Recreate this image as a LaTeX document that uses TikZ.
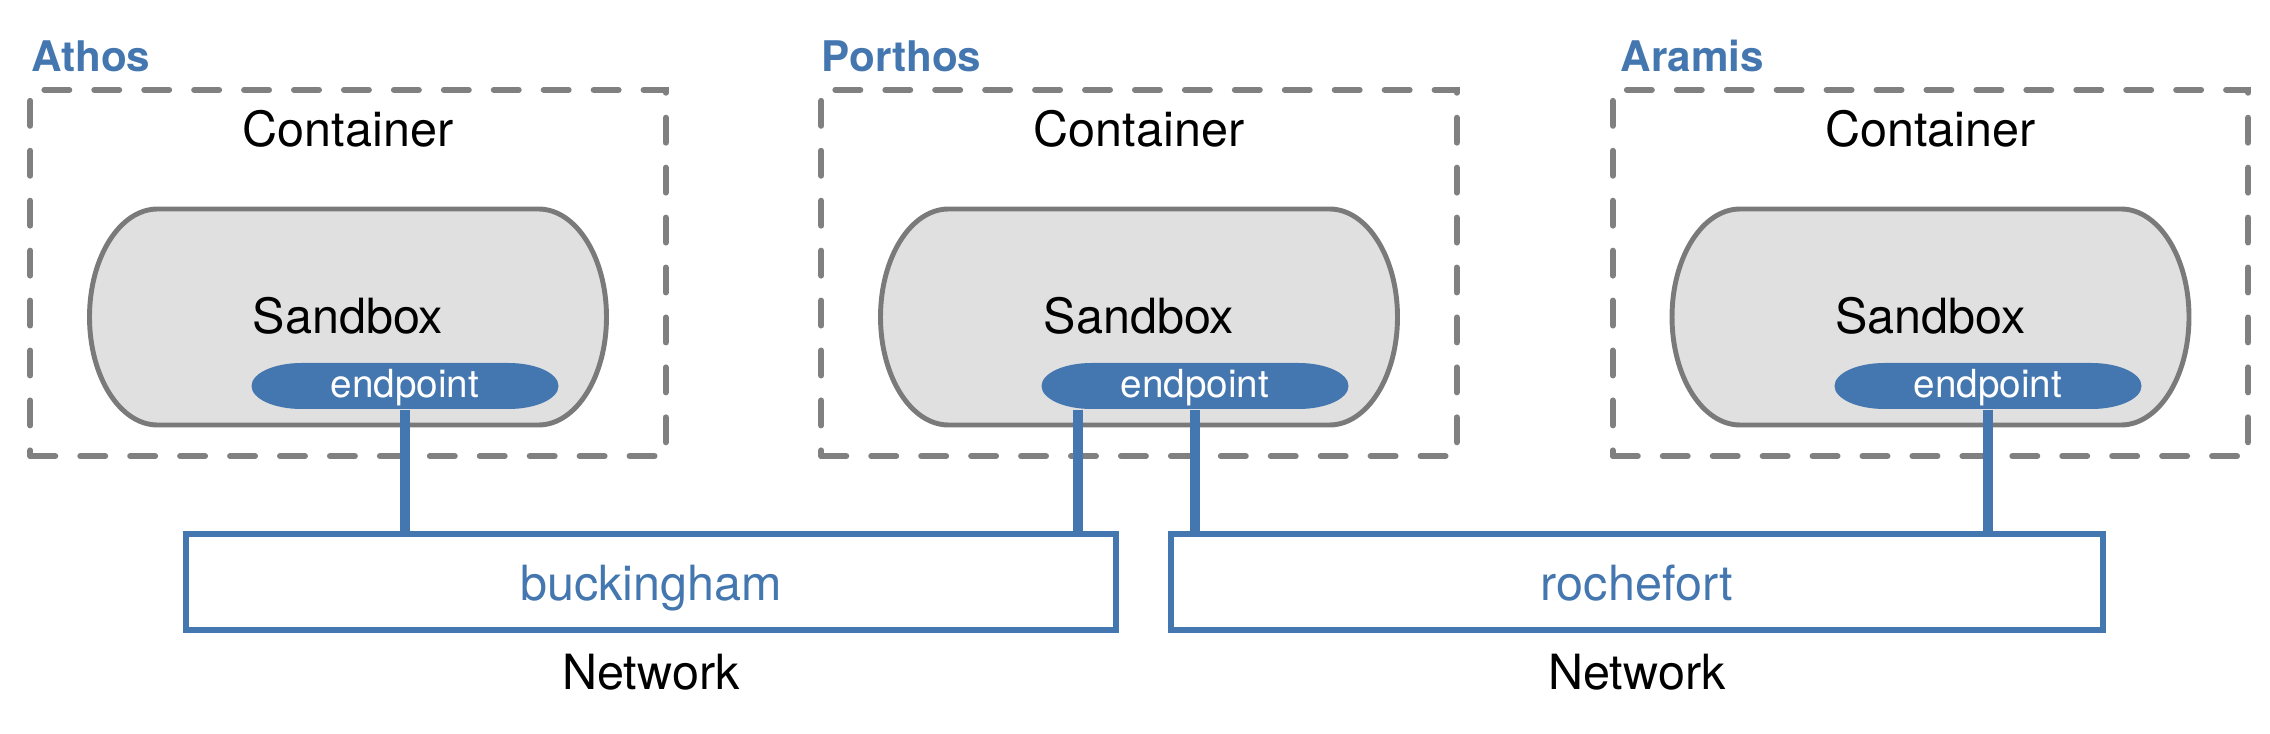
\documentclass[tikz,border=0pt]{standalone}
\usepackage{fontspec}
\setmainfont{TeX Gyre Heros}
\definecolor{epblue}{RGB}{68,119,176}
\definecolor{dashgray}{RGB}{128,128,128}
\definecolor{sbgray}{RGB}{224,224,224}
\definecolor{sbline}{RGB}{122,122,122}
\begin{document}
\begin{tikzpicture}[x=0.01cm,y=0.01cm,
  maintext/.style={font=\fontsize{13.8}{16}\selectfont, inner sep=0pt, anchor=base},
  hostlabel/.style={font=\fontsize{12}{14}\selectfont\bfseries, text=epblue, inner sep=0pt, anchor=base west},
  containerbox/.style={draw=dashgray, line width=1.7pt, dash pattern=on 7.1pt off 7.1pt, line cap=round, minimum width=6.35cm, minimum height=3.66cm, inner sep=0pt},
  sandboxshape/.style={draw=sbline, fill=sbgray, line width=1.4pt},
  epshape/.style={fill=epblue},
  eptext/.style={text=white, font=\fontsize{11}{13}\selectfont, inner sep=0pt, minimum width=3.07cm, minimum height=0.46cm, text height=8pt, text depth=1.2pt},
  netbox/.style={draw=epblue, line width=1.7pt, minimum height=0.96cm, text=epblue, font=\fontsize{13.8}{16}\selectfont, text height=12pt, text depth=1.2pt, inner sep=0pt},
  link/.style={draw=epblue, line width=2.6pt}
]
\useasboundingbox (0,0) rectangle (2270,733);

% containers
\node[containerbox] (c1) at (348,460) {};
\node[containerbox] (c2) at (1139,460) {};
\node[containerbox] (c3) at (1930.5,460) {};

% host labels
\node[hostlabel] (l1) at (31,661) {Athos};
\node[hostlabel] (l2) at (821,661) {Porthos};
\node[hostlabel] (l3) at (1620,661) {Aramis};

% container labels
\node[maintext] (ct1) at (348,586) {Container};
\node[maintext] (ct2) at (1139,586) {Container};
\node[maintext] (ct3) at (1930.5,586) {Container};

% sandboxes
\foreach \cx in {348,1139,1930.5}{
  \draw[sandboxshape] (\cx-190.5,524) -- (\cx+190.5,524)
    arc[start angle=90,end angle=-90,x radius=68,y radius=108]
    -- (\cx-190.5,308)
    arc[start angle=270,end angle=90,x radius=68,y radius=108] -- cycle;
}
\node[maintext] (s1) at (348,399) {Sandbox};
\node[maintext] (s2) at (1139,399) {Sandbox};
\node[maintext] (s3) at (1930.5,399) {Sandbox};

% endpoints
\foreach \ex in {405,1195,1988}{
  \fill[epshape] (\ex-103.5,370) -- (\ex+103.5,370)
    arc[start angle=90,end angle=-90,x radius=50,y radius=23]
    -- (\ex-103.5,324)
    arc[start angle=270,end angle=90,x radius=50,y radius=23] -- cycle;
}
\node[eptext] (e1) at (405,347) {endpoint};
\node[eptext] (e2) at (1195,347) {endpoint};
\node[eptext] (e3) at (1988,347) {endpoint};

% networks
\node[netbox, minimum width=9.30cm] (buck) at (651,151) {buckingham};
\node[netbox, minimum width=9.32cm] (roch) at (1637,151) {rochefort};
\node[maintext] (n1) at (651,44) {Network};
\node[maintext] (n2) at (1637,44) {Network};

% links
\coordinate (e2l) at ([xshift=-1.17cm]e2.south);
\draw[link] (e1.south) -- (e1.south |- buck.north);
\draw[link] (e2l) -- (e2l |- buck.north);
\draw[link] (e2.south) -- (e2.south |- roch.north);
\draw[link] (e3.south) -- (e3.south |- roch.north);
\end{tikzpicture}
\end{document}
